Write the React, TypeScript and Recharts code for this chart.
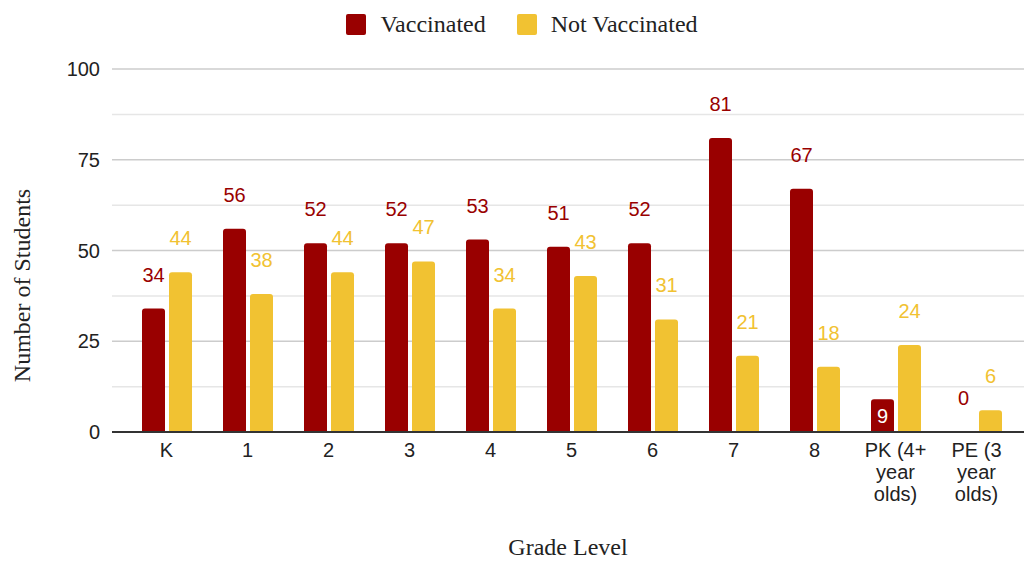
import React from "react"
import {
  BarChart,
  Bar,
  XAxis,
  YAxis,
  CartesianGrid,
  Legend,
  LabelList,
  Label,
  Text,
} from "recharts"

if (typeof document !== "undefined") document.body.style.margin = "0"

const categories = ["K", "1", "2", "3", "4", "5", "6", "7", "8", "PK (4+ year olds)", "PE (3 year olds)"]
const vaccinated = [34, 56, 52, 52, 53, 51, 52, 81, 67, 9, 0]
const notVaccinated = [44, 38, 44, 47, 34, 43, 31, 21, 18, 24, 6]
const yTicks = [0, 12.5, 25, 37.5, 50, 62.5, 75, 87.5, 100]
const majorTicks = [0, 25, 50, 75, 100]

const RED = "#990000"
const YELLOW = "#f1c232"
const SANS = "'Liberation Sans', Arial, sans-serif"
const SERIF = "'Liberation Serif', 'Times New Roman', serif"

const data = categories.map((grade, i) => ({
  grade,
  vaccinated: vaccinated[i],
  notVaccinated: notVaccinated[i],
}))

const VaccLabel = (props: any) => {
  const { x, y, width, height, value } = props
  const cx = Number(x) + Number(width) / 2
  if (value > 0 && value < 10) {
    // short bar: label sits inside in white
    return (
      <text x={cx} y={Number(y) + Number(height) / 2 + 7} textAnchor="middle" fill="#ffffff" fontSize={20} fontFamily={SANS}>
        {value}
      </text>
    )
  }
  return (
    <text x={cx} y={Number(y) - 27} textAnchor="middle" fill={RED} fontSize={20} fontFamily={SANS}>
      {value}
    </text>
  )
}

const NotVaccLabel = (props: any) => {
  const { x, y, width, height, value, index } = props
  const cx = Number(x) + Number(width) / 2
  const zeroRed = vaccinated[index] === 0
  return (
    <g>
      <text x={cx} y={Number(y) - 27} textAnchor="middle" fill={YELLOW} fontSize={20} fontFamily={SANS}>
        {value}
      </text>
      {zeroRed && (
        // zero-height red bar gets no label from its own LabelList
        <text x={cx - Number(width) - 4} y={Number(y) + Number(height) - 27} textAnchor="middle" fill={RED} fontSize={20} fontFamily={SANS}>
          0
        </text>
      )}
    </g>
  )
}

const GradeTick = (props: any) => {
  const { x, y, payload } = props
  return (
    <Text
      x={x}
      y={y}
      width={64}
      textAnchor="middle"
      verticalAnchor="start"
      lineHeight={22}
      fill="#222"
      fontSize={20}
      fontFamily={SANS}
      style={{ fontSize: 20, fontFamily: SANS }}
    >
      {payload.value}
    </Text>
  )
}

const ValueTick = (props: any) => {
  const { x, y, payload } = props
  if (!majorTicks.includes(payload.value)) return null
  return (
    <text x={x} y={y} dy={7} textAnchor="end" fill="#222" fontSize={20} fontFamily={SANS}>
      {payload.value}
    </text>
  )
}

const GridLine = (props: any) => {
  const { x1, x2, y1, y2, index } = props
  const major = index % 2 === 0
  return <line x1={x1} x2={x2} y1={y1} y2={y2} stroke={major ? "#cccccc" : "#e6e6e6"} strokeWidth={1.5} />
}

const LegendBox = () => (
  <div
    style={{
      height: 48,
      display: "flex",
      justifyContent: "center",
      alignItems: "center",
      gap: 31,
      paddingLeft: 20,
      fontFamily: SERIF,
      fontSize: 24,
      color: "#222",
    }}
  >
    {[
      { name: "Vaccinated", color: RED },
      { name: "Not Vaccinated", color: YELLOW },
    ].map((item) => (
      <span key={item.name} style={{ display: "flex", alignItems: "center", gap: 14 }}>
        <span style={{ width: 20, height: 21, borderRadius: 2, background: item.color, display: "inline-block" }} />
        <span>{item.name}</span>
      </span>
    ))}
  </div>
)

const YTitle = (props: any) => {
  const { viewBox } = props
  const x = viewBox.x + 22
  const y = viewBox.y + viewBox.height / 2 + 35
  return (
    <text x={x} y={y} transform={`rotate(-90, ${x}, ${y})`} textAnchor="middle" dominantBaseline="central" fill="#222" fontSize={24} fontFamily={SERIF}>
      Number of Students
    </text>
  )
}

export default function App() {
  return (
    <div style={{ width: 1024, height: 561, background: "#fff" }}>
      <BarChart
        width={1024}
        height={561}
        data={data}
        margin={{ top: 21, right: 0, bottom: 0, left: 0 }}
        barSize={23}
        barGap={4}
      >
        <Legend verticalAlign="top" content={<LegendBox />} wrapperStyle={{ top: 0, left: 0, width: 1024 }} />
        <CartesianGrid vertical={false} horizontal={GridLine} />
        <XAxis
          dataKey="grade"
          height={129}
          interval={0}
          tick={<GradeTick />}
          tickLine={false}
          tickSize={0}
          tickMargin={11}
          axisLine={{ stroke: "#333333", strokeWidth: 2 }}
          padding={{ left: 14, right: 7 }}
        >
          <Label value="Grade Level" position="insideBottom" offset={6} fill="#222" fontSize={24} fontFamily={SERIF} />
        </XAxis>
        <YAxis
          width={112}
          domain={[0, 100]}
          ticks={yTicks}
          interval={0}
          axisLine={false}
          tickLine={false}
          tickSize={0}
          tickMargin={12}
          tick={<ValueTick />}
        >
          <Label content={<YTitle />} />
        </YAxis>
        <Bar dataKey="vaccinated" name="Vaccinated" fill={RED} radius={[3, 3, 0, 0]} isAnimationActive={false}>
          <LabelList dataKey="vaccinated" content={<VaccLabel />} />
        </Bar>
        <Bar dataKey="notVaccinated" name="Not Vaccinated" fill={YELLOW} radius={[3, 3, 0, 0]} isAnimationActive={false}>
          <LabelList dataKey="notVaccinated" content={<NotVaccLabel />} />
        </Bar>
      </BarChart>
    </div>
  )
}
